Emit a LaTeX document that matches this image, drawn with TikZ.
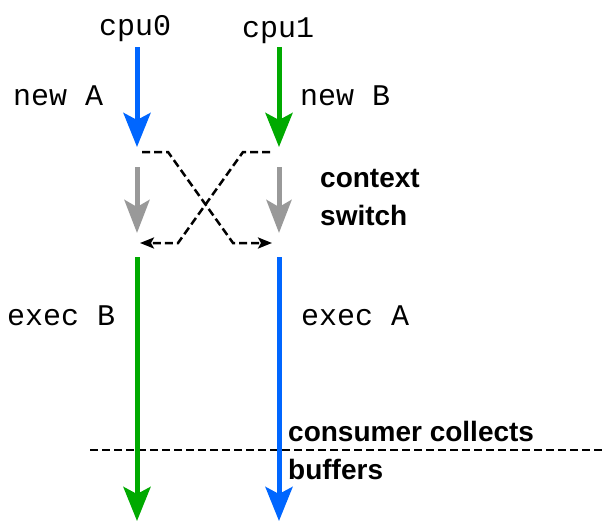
\documentclass[tikz,border=0pt]{standalone}
\usepackage{fontspec}
\setmainfont{Liberation Sans}
\newfontfamily\monof{Liberation Mono}
\usetikzlibrary{arrows.meta}
\definecolor{cblue}{HTML}{0066FF}
\definecolor{cgreen}{HTML}{00AA00}
\definecolor{cgray}{HTML}{999999}
\begin{document}
\begin{tikzpicture}[x=1pt,y=-1pt,
  mono/.style={inner sep=0pt, anchor=base west, font=\monof\fontsize{30}{30}\selectfont},
  sanslbl/.style={inner sep=0pt, anchor=base west, font=\bfseries\fontsize{28}{28}\selectfont},
  bigarrow/.style={line width=5pt, -{Stealth[length=34pt,width=27pt,inset=7pt]}},
  grayarrow/.style={line width=5pt, cgray, -{Stealth[length=33pt,width=25pt,inset=7pt]}},
  swaparrow/.style={line width=2.5pt, dash pattern=on 8pt off 4pt, -{Stealth[length=14pt,width=11pt,inset=3pt]}},
  sepline/.style={line width=2.5pt, dash pattern=on 8pt off 4pt}
]
\useasboundingbox (0,0) rectangle (605,522);
% labels
\node[mono] (cpu0) at (99,35) {cpu0};
\node[mono] (cpu1) at (242,37) {cpu1};
\node[mono] (newA) at (13,105) {new A};
\node[mono] (newB) at (300,105) {new B};
\node[mono] (execB) at (7,325) {exec B};
\node[mono] (execA) at (301,325) {exec A};
\node[sanslbl] (ctx1) at (320,187) {context};
\node[sanslbl] (ctx2) at (320,225) {switch};
\node[sanslbl] (cons1) at (288,441) {consumer collects};
\node[sanslbl] (cons2) at (288,479) {buffers};
% coordinates
\coordinate (a0) at (137,47);
\coordinate (a1) at (137,147);
\coordinate (b0) at (279,47);
\coordinate (b1) at (279,147);
\coordinate (g0) at (137,167);
\coordinate (g1) at (137,233);
\coordinate (h0) at (279,167);
\coordinate (h1) at (279,233);
\coordinate (e0) at (137,257);
\coordinate (e1) at (137,521);
\coordinate (f0) at (279,257);
\coordinate (f1) at (279,521);
\coordinate (l0) at (142,152);
\coordinate (l1) at (168,152);
\coordinate (l2) at (233,243);
\coordinate (l3) at (272,243);
\coordinate (r0) at (270,152);
\coordinate (r1) at (243,152);
\coordinate (r2) at (178,243);
\coordinate (r3) at (140,243);
\coordinate (s0) at (90,450);
\coordinate (s1) at (605,450);
% separator
\draw[sepline] (s0) -- (s1);
% arrows
\draw[bigarrow, cblue] (a0) -- (a1);
\draw[bigarrow, cgreen] (b0) -- (b1);
\draw[grayarrow] (g0) -- (g1);
\draw[grayarrow] (h0) -- (h1);
\draw[swaparrow] (l0) -- (l1) -- (l2) -- (l3);
\draw[swaparrow] (r0) -- (r1) -- (r2) -- (r3);
\draw[bigarrow, cgreen] (e0) -- (e1);
\draw[bigarrow, cblue] (f0) -- (f1);
\end{tikzpicture}
\end{document}
